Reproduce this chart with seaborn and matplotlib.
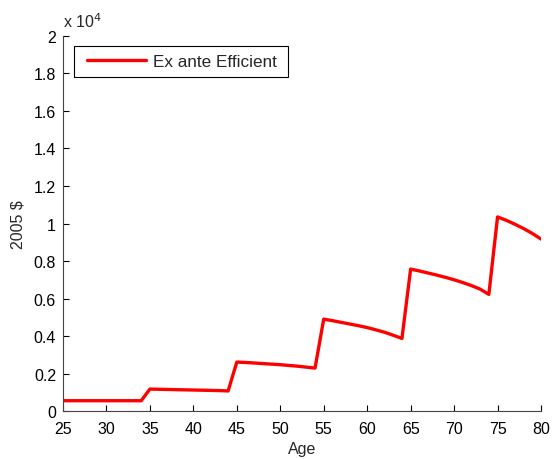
import numpy as np
import pandas as pd
import matplotlib
matplotlib.use("Agg")
import matplotlib.pyplot as plt
import seaborn as sns
from matplotlib.ticker import FuncFormatter
from matplotlib.patches import Rectangle

ages = list(range(25, 81))
values = [550] * 10 + \
    [1170, 1160, 1150, 1140, 1130, 1120, 1110, 1100, 1090, 1070] + \
    [2610, 2590, 2560, 2530, 2500, 2470, 2430, 2390, 2340, 2290] + \
    [4900, 4820, 4730, 4640, 4550, 4450, 4330, 4200, 4040, 3870] + \
    [7570, 7470, 7360, 7250, 7130, 7000, 6850, 6690, 6500, 6220] + \
    [10350, 10170, 9960, 9730, 9470, 9170]
series_name = "Ex ante Efficient"
x_ticks = list(range(25, 81, 5))
y_ticks = [i * 2000 for i in range(11)]

df = pd.DataFrame({"Age": ages, "Value": values, "Series": series_name})

sns.set_style("white")
plt.rcParams['font.family'] = ['Liberation Sans', 'DejaVu Sans']

fig = plt.figure(figsize=(5.53, 4.60), dpi=100)
ax = fig.add_axes([0.1139, 0.1043, 0.8644, 0.8153])
sns.lineplot(data=df, x="Age", y="Value", hue="Series", palette=["#ff0000"],
             linewidth=2.4, ax=ax)

ax.set_xlim(25, 80)
ax.set_ylim(0, 20000)
ax.set_xticks(x_ticks)
ax.set_yticks(y_ticks)
ax.yaxis.set_major_formatter(FuncFormatter(lambda v, p: "0" if v == 0 else ("%g" % (v / 1e4))))
ax.tick_params(direction="in", length=4, width=0.8, labelsize=11.5, colors="black",
               pad=5, bottom=True, left=True, top=False, right=False)
ax.tick_params(axis="x", pad=7)
for s in ["top", "right"]:
    ax.spines[s].set_visible(False)
for s in ["left", "bottom"]:
    ax.spines[s].set_color("#444444")
    ax.spines[s].set_linewidth(0.8)
ax.set_xlabel("Age", fontsize=11.5, labelpad=4)
ax.set_ylabel("2005 $", fontsize=11.5, labelpad=6)
ax.text(0.0, 1.015, "x 10$^4$", transform=ax.transAxes, fontsize=11.5, ha="left", va="bottom")

# legend box drawn like the reference (wider padding horizontally than vertically)
box = Rectangle((0.023, 0.891), 0.448, 0.082, transform=ax.transAxes,
                facecolor="white", edgecolor="black", linewidth=0.8, zorder=4)
ax.add_patch(box)
leg = ax.legend(loc="center left", bbox_to_anchor=(0.0502, 0.932), fontsize=12.3,
                frameon=False, handlelength=3.45, borderpad=0, borderaxespad=0,
                handletextpad=0.42)
leg.set_zorder(5)
leg.set_title(None)

fig.savefig("out.png", dpi=100)
